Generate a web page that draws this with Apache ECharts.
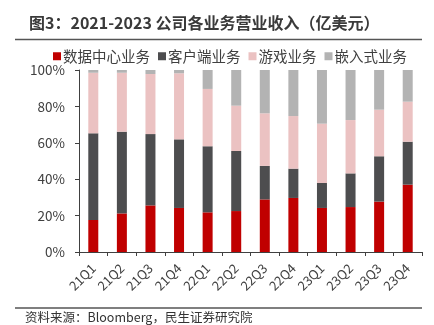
<!DOCTYPE html>
<html><head><meta charset="utf-8">
<script src="https://cdn.jsdelivr.net/npm/echarts@6/dist/echarts.min.js"></script>
<style>html,body{margin:0;padding:0;background:#fff}#c{width:434px;height:325px}</style>
</head><body><div id="c"></div>
<script>
var categories = ['21Q1','21Q2','21Q3','21Q4','22Q1','22Q2','22Q3','22Q4','23Q1','23Q2','23Q3','23Q4'];
var dataCenter = [17.6,21.2,25.6,24.2,21.8,22.5,28.9,29.7,24.2,24.7,27.7,37.0];
var client     = [47.6,44.9,39.2,37.7,36.3,33.0,18.4,16.1,13.7,18.5,24.9,23.6];
var gaming     = [33.3,32.4,33.0,36.3,31.5,24.9,28.9,28.9,32.6,29.3,25.6,22.0];
var embedded   = [1.5,1.5,2.2,1.8,10.4,19.6,23.8,25.3,29.5,27.5,21.8,17.4];
var yTicks = [0,20,40,60,80,100];
var seriesNames = ['数据中心业务','客户端业务','游戏业务','嵌入式业务'];

var font = '"Noto Sans CJK SC", "Noto Sans", sans-serif';
var colors = ['#C00000','#4D4D4F','#EBC2C2','#B3B3B3'];
var chart = echarts.init(document.getElementById('c'));
var all = [dataCenter, client, gaming, embedded];
chart.setOption({
  animation:false,
  textStyle:{fontFamily:font},
  title:{text:'图3：2021-2023 公司各业务营业收入（亿美元）', left:24, top:10,
    textStyle:{fontSize:16, fontWeight:'bold', color:'#3a3a3a', fontFamily:font}},
  graphic:[
    {type:'line', shape:{x1:15,y1:39.5,x2:422,y2:39.5}, style:{stroke:'#555',lineWidth:1.5}},
    {type:'line', shape:{x1:15,y1:308,x2:422,y2:308}, style:{stroke:'#555',lineWidth:1.5}},
    {type:'text', left:25, top:311, style:{text:'资料来源：Bloomberg，民生证券研究院', fill:'#333', font:'12.5px '+font}}
  ],
  legend:{top:44, left:48, itemWidth:8, itemHeight:8, itemGap:8, icon:'rect',
    textStyle:{fontSize:14.5, color:'#404040', padding:[0,0,0,-3]}, data:seriesNames},
  grid:{left:79, right:12, top:70, bottom:73},
  xAxis:{type:'category', data:categories,
    axisLine:{lineStyle:{color:'#404040'}},
    axisTick:{show:true, alignWithLabel:false, length:4, lineStyle:{color:'#404040'}},
    axisLabel:{rotate:45, fontSize:13, color:'#404040', margin:14}},
  yAxis:{type:'value', min:0, max:100, interval:20,
    axisLine:{show:true, lineStyle:{color:'#404040'}},
    axisTick:{show:true, inside:false, length:4, lineStyle:{color:'#404040'}},
    splitLine:{show:false},
    axisLabel:{fontSize:13.5, color:'#404040', margin:14,
      formatter:function(v){return yTicks.indexOf(v)>=0 ? v+'%' : '';}}},
  series: seriesNames.map(function(n,i){
    return {name:n, type:'bar', stack:'s', data:all[i], barWidth:10,
      itemStyle:{color:colors[i]}};
  })
});
</script></body></html>
